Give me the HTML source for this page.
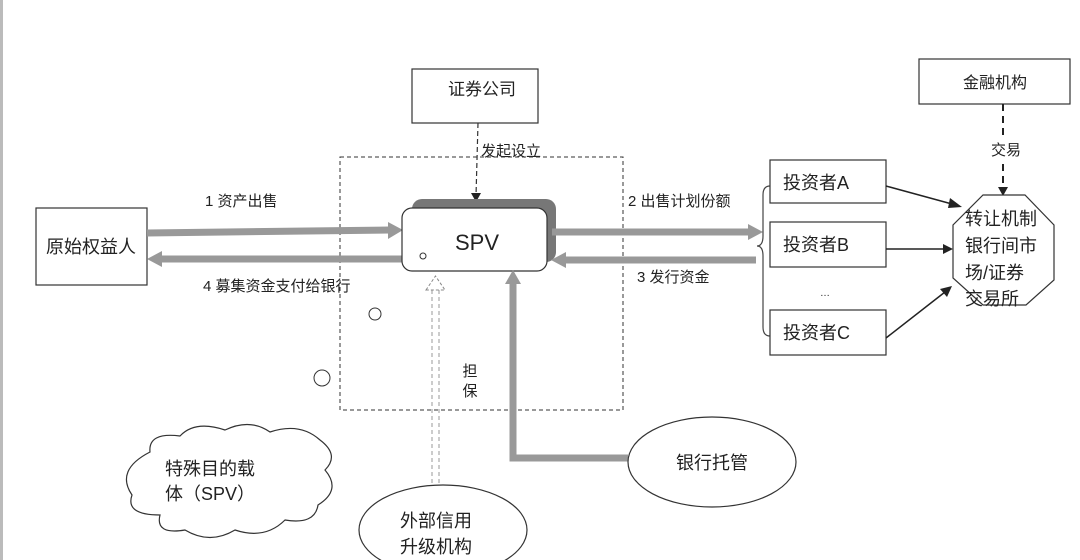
<!DOCTYPE html>
<html><head><meta charset="utf-8"><style>
body{margin:0;background:#fff}
svg{display:block}
text{font-family:"Liberation Sans","Noto Sans CJK SC",sans-serif;fill:#222}
</style></head><body>
<svg width="1080" height="560" viewBox="0 0 1080 560">
<rect x="0" y="0" width="3" height="560" fill="#bbb"/>
<!-- 证券公司 -->
<rect x="412" y="69" width="126" height="54" fill="#fff" stroke="#333" stroke-width="1.2"/>
<text x="482" y="95" font-size="17" text-anchor="middle">证券公司</text>
<line x1="478" y1="123" x2="476" y2="196" stroke="#333" stroke-dasharray="5,3" stroke-width="1.2"/>
<polygon points="471,193 481,193 476,202" fill="#222"/>
<text x="481" y="156" font-size="15">发起设立</text>
<!-- dashed rect -->
<rect x="340" y="157" width="283" height="253" fill="none" stroke="#333" stroke-dasharray="4,3" stroke-width="1"/>
<!-- 原始权益人 -->
<rect x="36" y="208" width="111" height="77" fill="#fff" stroke="#333" stroke-width="1.2"/>
<text x="91" y="253" font-size="18" text-anchor="middle">原始权益人</text>
<!-- arrows 1 and 4 -->
<line x1="147" y1="233" x2="390" y2="230" stroke="#999" stroke-width="7"/>
<polygon points="388,222 403,230 388,239" fill="#999"/>
<line x1="160" y1="259" x2="404" y2="259" stroke="#999" stroke-width="7"/>
<polygon points="162,251 147,259 162,267" fill="#999"/>
<text x="205" y="206" font-size="15">1 资产出售</text>
<text x="203" y="291" font-size="15" fill="#1a1a40">4 募集资金支付给银行</text>
<!-- SPV -->
<rect x="412" y="199" width="144" height="63" rx="10" fill="#777"/>
<rect x="402" y="208" width="145" height="63" rx="10" fill="#fff" stroke="#333" stroke-width="1.2"/>
<text x="477" y="250" font-size="22" text-anchor="middle" fill="#1a1a40">SPV</text>
<circle cx="423" cy="256" r="3" fill="none" stroke="#333"/>
<circle cx="375" cy="314" r="6" fill="none" stroke="#333"/>
<circle cx="322" cy="378" r="8" fill="none" stroke="#333"/>
<!-- arrows 2 and 3 -->
<line x1="552" y1="232" x2="750" y2="232" stroke="#999" stroke-width="7"/>
<polygon points="748,224 763,232 748,240" fill="#999"/>
<line x1="565" y1="260" x2="756" y2="260" stroke="#999" stroke-width="7"/>
<polygon points="566,252 551,260 566,268" fill="#999"/>
<text x="628" y="206" font-size="15">2 出售计划份额</text>
<text x="637" y="282" font-size="15">3  发行资金</text>
<!-- brace -->
<path d="M770,186 Q763,186 763,195 L763,236 Q763,246 757,246 Q763,246 763,256 L763,327 Q763,336 770,336" fill="none" stroke="#444" stroke-width="1.2"/>
<!-- investors -->
<rect x="770" y="160" width="116" height="43" fill="#fff" stroke="#333" stroke-width="1.2"/>
<text x="783" y="189" font-size="18">投资者A</text>
<rect x="770" y="222" width="116" height="45" fill="#fff" stroke="#333" stroke-width="1.2"/>
<text x="783" y="251" font-size="18">投资者B</text>
<text x="825" y="296" font-size="10" text-anchor="middle" fill="#999">…</text>
<rect x="770" y="310" width="116" height="45" fill="#fff" stroke="#333" stroke-width="1.2"/>
<text x="783" y="339" font-size="18">投资者C</text>
<!-- 金融机构 -->
<rect x="919" y="59" width="151" height="45" fill="#fff" stroke="#333" stroke-width="1.2"/>
<text x="995" y="88" font-size="16" text-anchor="middle">金融机构</text>
<line x1="1003" y1="104" x2="1003" y2="190" stroke="#222" stroke-width="2" stroke-dasharray="7,5"/>
<rect x="990" y="137" width="28" height="22" fill="#fff"/>
<text x="1006" y="155" font-size="15" text-anchor="middle">交易</text>
<polygon points="998,187 1008,187 1003,196" fill="#222"/>
<!-- octagon -->
<polygon points="983,195 1025,195 1054,225 1054,280 1026,305 983,305 953,278 953,225" fill="#fff" stroke="#333" stroke-width="1.2"/>
<text x="965" y="225" font-size="18">转让机制</text>
<text x="965" y="252" font-size="18">银行间市</text>
<text x="965" y="279" font-size="18">场/证券</text>
<text x="965" y="305" font-size="18">交易所</text>
<line x1="886" y1="186" x2="952" y2="204" stroke="#222" stroke-width="1.5"/>
<polygon points="950,198 962,207 948,208" fill="#222"/>
<line x1="886" y1="249" x2="944" y2="249" stroke="#222" stroke-width="1.5"/>
<polygon points="943,244 953,249 943,254" fill="#222"/>
<line x1="886" y1="338" x2="945" y2="292" stroke="#222" stroke-width="1.5"/>
<polygon points="940,289 952,286 947,297" fill="#222"/>
<!-- bank custody -->
<path d="M628,458 L513,458 L513,282" fill="none" stroke="#999" stroke-width="7"/>
<polygon points="505,284 513,270 521,284" fill="#999"/>
<ellipse cx="712" cy="462" rx="84" ry="45" fill="#fff" stroke="#333" stroke-width="1.2"/>
<text x="712" y="469" font-size="18" text-anchor="middle">银行托管</text>
<!-- guarantee -->
<line x1="432" y1="290" x2="432" y2="492" stroke="#999" stroke-dasharray="4,3"/>
<line x1="439" y1="290" x2="439" y2="492" stroke="#999" stroke-dasharray="4,3"/>
<polygon points="426,290 435.5,276 445,290" fill="#fff" stroke="#888" stroke-dasharray="3,2"/>
<text x="470" y="376" font-size="15" text-anchor="middle">担</text>
<text x="470" y="396" font-size="15" text-anchor="middle">保</text>
<ellipse cx="443" cy="530" rx="84" ry="45" fill="#fff" stroke="#333" stroke-width="1.2"/>
<text x="436" y="527" font-size="18" text-anchor="middle">外部信用</text>
<text x="436" y="553" font-size="18" text-anchor="middle">升级机构</text>
<!-- cloud -->
<path d="M150,452 Q148,432 180,436 Q195,420 225,430 Q250,418 270,432 Q300,422 320,440 Q340,455 325,470 Q342,490 318,505 Q315,525 285,520 Q265,540 235,530 Q210,545 185,530 Q155,535 160,515 Q125,515 132,495 Q115,470 150,452 Z" fill="#fff" stroke="#333" stroke-width="1.2"/>
<text x="165" y="475" font-size="18" fill="#1a1a40">特殊目的载</text>
<text x="165" y="500" font-size="18" fill="#1a1a40">体（SPV）</text>
</svg>
</body></html>
